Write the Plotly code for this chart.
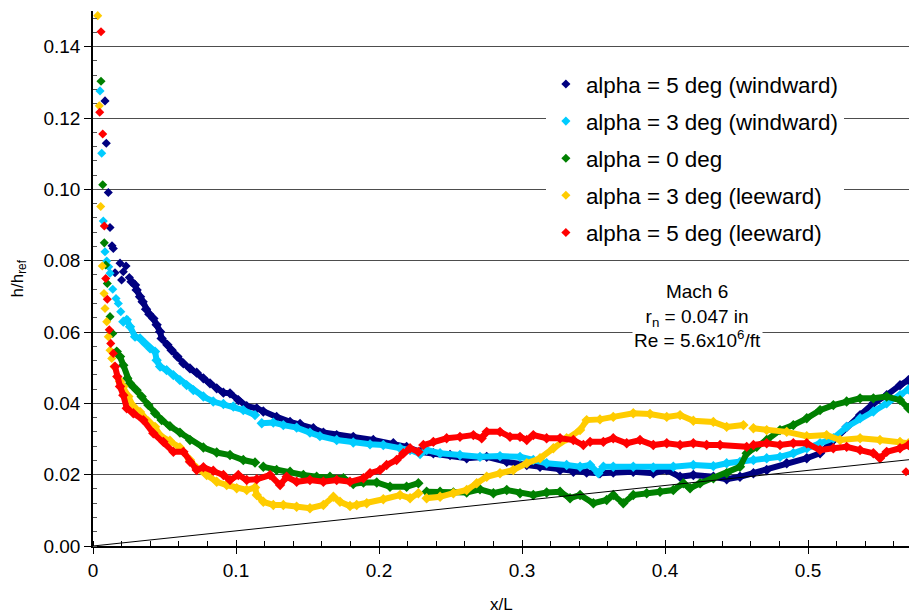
import plotly.graph_objects as go

# ---------------------------------------------------------------------------
# Heating distribution h/h_ref along x/L, Mach 6, r_n = 0.047 in
# Each case: isolated leading-edge points + the dense run further aft
# (None marks a break in the dense run).
# ---------------------------------------------------------------------------

# alpha = 5 deg (windward)
a5w_x_sparse = [0.0084, 0.0093, 0.0107, 0.0119, 0.0133, 0.0142, 0.0154, 0.0189, 0.0200, 0.0212, 0.0231, 0.0254]
a5w_y_sparse = [0.1248, 0.1129, 0.0991, 0.0893, 0.0842, 0.0834, 0.0766, 0.0793, 0.0746, 0.0769, 0.0785, 0.0753]
a5w_x = [0.0270, 0.0294, 0.0305, 0.0329, 0.0347, 0.0371, 0.0394, 0.0422, 0.0445, 0.0469, 0.0480, 0.0520,
         0.0550, 0.0590, 0.0632, 0.0678, 0.0725, 0.0772, 0.0818, 0.0865, 0.0912, 0.0958, 0.1016, 0.1075,
         0.1145, 0.1191, 0.1284, 0.1378, 0.1448, 0.1541, 0.1611, 0.1704, 0.1820, 0.1960, 0.2100, 0.2193,
         0.2287, 0.2380, 0.2497, 0.2613, 0.2753, 0.2893, 0.3033, 0.3126, 0.3266, 0.3359, 0.3452, 0.3545,
         0.3638, 0.3778, 0.3918, 0.4012, 0.4105, 0.4198, 0.4338, 0.4431, 0.4524, 0.4618, 0.4711, 0.4851,
         0.4991, 0.5084, 0.5177, 0.5270, 0.5364, 0.5457, 0.5550, 0.5643, 0.5702]
a5w_y = [0.0741, 0.0732, 0.0718, 0.0699, 0.0685, 0.0664, 0.0650, 0.0638, 0.0620, 0.0601, 0.0582, 0.0564,
         0.0549, 0.0531, 0.0512, 0.0498, 0.0486, 0.0470, 0.0456, 0.0442, 0.0430, 0.0428, 0.0409, 0.0392,
         0.0386, 0.0377, 0.0362, 0.0348, 0.0342, 0.0330, 0.0318, 0.0311, 0.0306, 0.0297, 0.0288, 0.0278,
         0.0264, 0.0260, 0.0255, 0.0246, 0.0250, 0.0236, 0.0227, 0.0222, 0.0213, 0.0208, 0.0206, 0.0204,
         0.0206, 0.0208, 0.0204, 0.0213, 0.0194, 0.0199, 0.0194, 0.0187, 0.0194, 0.0204, 0.0213, 0.0232,
         0.0246, 0.0260, 0.0297, 0.0334, 0.0367, 0.0400, 0.0423, 0.0451, 0.0465]

# alpha = 3 deg (windward)
a3w_x_sparse = [0.0049, 0.0061, 0.0072, 0.0084, 0.0096, 0.0110, 0.0119, 0.0138, 0.0161, 0.0177, 0.0194]
a3w_y_sparse = [0.1276, 0.1101, 0.0911, 0.0825, 0.0799, 0.0783, 0.0765, 0.0720, 0.0694, 0.0680, 0.0657]
a3w_x = [0.0212, 0.0236, 0.0259, 0.0294, 0.0329, 0.0364, 0.0399, 0.0434, 0.0445, 0.0469, 0.0515, 0.0562,
         0.0608, 0.0655, 0.0702, 0.0772, 0.0841, 0.0912, 0.0981, 0.1051, 0.1133, None,
         0.1180, 0.1261, 0.1331, 0.1424, 0.1517, 0.1587, 0.1704, 0.1820, 0.1937, 0.2030, 0.2147, 0.2217,
         0.2287, 0.2333, 0.2427, 0.2566, 0.2706, 0.2846, 0.2986, 0.3079, 0.3172, 0.3312, 0.3406, 0.3476,
         0.3534, 0.3569, 0.3638, 0.3778, 0.3918, 0.4058, 0.4198, 0.4338, 0.4431, 0.4524, 0.4618, 0.4711,
         0.4804, 0.4897, 0.4991, 0.5084, 0.5177, 0.5270, 0.5364, 0.5457, 0.5550, 0.5643, 0.5702]
a3w_y = [0.0629, 0.0634, 0.0615, 0.0587, 0.0582, 0.0568, 0.0554, 0.0545, 0.0521, 0.0503, 0.0493, 0.0479,
         0.0465, 0.0451, 0.0437, 0.0419, 0.0405, 0.0398, 0.0391, 0.0381, 0.0367, None,
         0.0344, 0.0346, 0.0339, 0.0332, 0.0318, 0.0308, 0.0297, 0.0290, 0.0285, 0.0283, 0.0274, 0.0269,
         0.0258, 0.0269, 0.0260, 0.0255, 0.0250, 0.0252, 0.0250, 0.0241, 0.0232, 0.0227, 0.0222, 0.0227,
         0.0204, 0.0222, 0.0222, 0.0222, 0.0220, 0.0222, 0.0227, 0.0224, 0.0232, 0.0236, 0.0241, 0.0246,
         0.0250, 0.0260, 0.0274, 0.0288, 0.0302, 0.0334, 0.0358, 0.0377, 0.0400, 0.0423, 0.0439]

# alpha = 0 deg
a0_x_sparse = [0.0056, 0.0068, 0.0079, 0.0089, 0.0100, 0.0119, 0.0138]
a0_y_sparse = [0.1303, 0.1013, 0.0850, 0.0788, 0.0736, 0.0643, 0.0596]
a0_x = [0.0166, 0.0189, 0.0212, 0.0240, 0.0259, 0.0270, 0.0305, 0.0340, 0.0387, 0.0434, 0.0480, 0.0538,
        0.0608, 0.0678, 0.0772, 0.0865, 0.0958, 0.1051, 0.1133, None,
        0.1191, 0.1284, 0.1378, 0.1471, 0.1564, 0.1657, 0.1751, 0.1820, 0.1891, 0.1984, 0.2077, 0.2193,
        0.2275, None,
        0.2333, 0.2427, 0.2520, 0.2613, 0.2706, 0.2800, 0.2893, 0.2986, 0.3079, 0.3172, 0.3266, 0.3336,
        0.3406, 0.3499, 0.3592, 0.3638, 0.3708, 0.3778, 0.3872, 0.3965, 0.4058, 0.4128, 0.4175, 0.4245,
        0.4338, 0.4431, 0.4524, 0.4571, 0.4641, 0.4711, 0.4804, 0.4897, 0.4991, 0.5084, 0.5177, 0.5270,
        0.5364, 0.5457, 0.5550, 0.5643, 0.5702]
a0_y = [0.0545, 0.0531, 0.0507, 0.0470, 0.0456, 0.0451, 0.0437, 0.0419, 0.0395, 0.0372, 0.0353, 0.0336,
        0.0318, 0.0297, 0.0276, 0.0262, 0.0255, 0.0241, 0.0234, None,
        0.0222, 0.0213, 0.0208, 0.0199, 0.0194, 0.0194, 0.0190, 0.0174, 0.0178, 0.0178, 0.0166, 0.0166,
        0.0176, None,
        0.0152, 0.0152, 0.0150, 0.0150, 0.0159, 0.0148, 0.0157, 0.0148, 0.0143, 0.0150, 0.0152, 0.0134,
        0.0143, 0.0120, 0.0129, 0.0143, 0.0120, 0.0143, 0.0148, 0.0152, 0.0157, 0.0176, 0.0162, 0.0176,
        0.0190, 0.0204, 0.0222, 0.0260, 0.0278, 0.0297, 0.0325, 0.0339, 0.0358, 0.0381, 0.0395, 0.0405,
        0.0414, 0.0414, 0.0419, 0.0409, 0.0386]

# alpha = 3 deg (leeward)
a3l_x_sparse = [0.0033, 0.0044, 0.0054, 0.0065, 0.0077, 0.0084, 0.0096, 0.0107, 0.0119, 0.0131, 0.0147, 0.0177]
a3l_y_sparse = [0.1487, 0.1234, 0.0952, 0.0785, 0.0708, 0.0666, 0.0629, 0.0587, 0.0549, 0.0526, 0.0503, 0.0470]
a3l_x = [0.0189, 0.0212, 0.0247, 0.0282, 0.0329, 0.0387, 0.0434, 0.0469, 0.0538, 0.0608, 0.0678, 0.0725,
         0.0795, 0.0865, 0.0935, 0.1005, 0.1075, 0.1133, 0.1145, 0.1191, 0.1261, 0.1331, 0.1424, 0.1517,
         0.1611, 0.1681, 0.1727, 0.1797, 0.1844, 0.1914, 0.2030, 0.2147, 0.2217, 0.2275, None,
         0.2333, 0.2427, 0.2520, 0.2613, 0.2683, 0.2753, 0.2846, 0.2939, 0.3033, 0.3126, 0.3219, 0.3312,
         0.3406, 0.3452, 0.3545, 0.3638, 0.3778, 0.3895, 0.4012, 0.4105, 0.4198, 0.4338, 0.4431, 0.4548, None,
         0.4618, 0.4711, 0.4851, 0.4991, 0.5130, 0.5224, 0.5364, 0.5503, 0.5643, 0.5702]
a3l_y = [0.0461, 0.0447, 0.0419, 0.0391, 0.0376, 0.0349, 0.0334, 0.0310, 0.0295, 0.0276, 0.0241, 0.0218,
         0.0199, 0.0180, 0.0171, 0.0162, 0.0157, 0.0164, 0.0143, 0.0124, 0.0115, 0.0115, 0.0110, 0.0106,
         0.0115, 0.0138, 0.0124, 0.0112, 0.0115, 0.0120, 0.0131, 0.0143, 0.0134, 0.0148, None,
         0.0134, 0.0138, 0.0148, 0.0157, 0.0176, 0.0194, 0.0204, 0.0213, 0.0232, 0.0246, 0.0274, 0.0302,
         0.0325, 0.0353, 0.0355, 0.0362, 0.0372, 0.0370, 0.0362, 0.0367, 0.0351, 0.0348, 0.0334, 0.0339, None,
         0.0330, 0.0325, 0.0320, 0.0308, 0.0311, 0.0297, 0.0302, 0.0297, 0.0292, 0.0288]

# alpha = 5 deg (leeward)
a5l_x_sparse = [0.0047, 0.0056, 0.0068, 0.0079, 0.0089, 0.0100, 0.0114, 0.0124, 0.0142, 0.5685]
a5l_y_sparse = [0.1216, 0.1442, 0.1155, 0.0897, 0.0750, 0.0692, 0.0606, 0.0568, 0.0540, 0.0208]
a5l_x = [0.0154, 0.0170, 0.0189, 0.0212, 0.0236, 0.0282, 0.0352, 0.0422, 0.0492, 0.0562, 0.0632, 0.0678,
         0.0725, 0.0772, 0.0841, 0.0912, 0.0958, 0.1016, 0.1075, 0.1145, 0.1238, 0.1308, 0.1354, 0.1424,
         0.1517, 0.1611, 0.1704, 0.1797, 0.1891, 0.1937, 0.2007, 0.2053, 0.2123, 0.2170, 0.2217, 0.2275, None,
         0.2310, 0.2380, 0.2473, 0.2566, 0.2660, 0.2718, 0.2753, 0.2846, 0.2916, 0.2986, 0.3033, 0.3079,
         0.3172, 0.3266, 0.3359, 0.3429, None,
         0.3476, 0.3569, 0.3638, 0.3732, 0.3825, 0.3918, 0.4012, 0.4105, 0.4198, 0.4291, 0.4385, 0.4571, None,
         0.4618, 0.4711, 0.4804, 0.4897, 0.4991, 0.5084, 0.5177, 0.5270, 0.5364, 0.5457, 0.5503, 0.5550,
         0.5643, 0.5702]
a5l_y = [0.0503, 0.0475, 0.0447, 0.0423, 0.0386, 0.0372, 0.0353, 0.0316, 0.0292, 0.0264, 0.0264, 0.0236,
         0.0213, 0.0221, 0.0211, 0.0199, 0.0185, 0.0199, 0.0185, 0.0187, 0.0199, 0.0171, 0.0194, 0.0180,
         0.0185, 0.0180, 0.0185, 0.0180, 0.0190, 0.0204, 0.0213, 0.0227, 0.0241, 0.0260, 0.0274, 0.0264, None,
         0.0283, 0.0292, 0.0302, 0.0306, 0.0311, 0.0302, 0.0320, 0.0320, 0.0306, 0.0306, 0.0297, 0.0311,
         0.0302, 0.0302, 0.0297, 0.0283, None,
         0.0292, 0.0292, 0.0302, 0.0288, 0.0297, 0.0283, 0.0288, 0.0283, 0.0288, 0.0283, 0.0283, 0.0278, None,
         0.0283, 0.0288, 0.0283, 0.0288, 0.0288, 0.0269, 0.0274, 0.0278, 0.0269, 0.0260, 0.0246, 0.0264,
         0.0274, 0.0283]

# thin reference line drawn from the origin
ref_x = [0.0, 0.5706]
ref_y = [0.0, 0.0242]

series = [
    ("alpha = 5 deg (windward)", "#000080", a5w_x_sparse, a5w_y_sparse, a5w_x, a5w_y),
    ("alpha = 3 deg (windward)", "#00CCFF", a3w_x_sparse, a3w_y_sparse, a3w_x, a3w_y),
    ("alpha = 0 deg", "#008000", a0_x_sparse, a0_y_sparse, a0_x, a0_y),
    ("alpha = 3 deg (leeward)", "#FFCC00", a3l_x_sparse, a3l_y_sparse, a3l_x, a3l_y),
    ("alpha = 5 deg (leeward)", "#FF0000", a5l_x_sparse, a5l_y_sparse, a5l_x, a5l_y),
]

FONT = "Arial, Liberation Sans, sans-serif"
X_MAX = 0.5706

fig = go.Figure()
for name, color, xs, ys, xd, yd in series:
    fig.add_trace(go.Scatter(
        x=xs, y=ys, mode="markers", name=name, legendgroup=name,
        marker=dict(symbol="diamond", size=7, color=color, line=dict(width=0)),
    ))
    fig.add_trace(go.Scatter(
        x=xd, y=yd, mode="lines+markers", name=name, legendgroup=name, showlegend=False,
        line=dict(color=color, width=6), connectgaps=False,
        marker=dict(symbol="diamond", size=8, color=color, line=dict(width=0)),
    ))

fig.add_trace(go.Scatter(
    x=ref_x, y=ref_y, mode="lines", showlegend=False,
    line=dict(color="black", width=1),
))

# second x axis only to draw the upper half of the major x ticks
fig.add_trace(go.Scatter(x=[None], y=[None], xaxis="x2", showlegend=False))

fig.update_layout(
    width=909, height=616,
    margin=dict(l=93, r=0, t=11, b=70),
    paper_bgcolor="white", plot_bgcolor="white",
    font=dict(family=FONT, size=19, color="black"),
    showlegend=True,
    legend=dict(
        x=0.555, xanchor="left", y=0.903, yanchor="top",
        bgcolor="white", borderwidth=0,
        font=dict(family=FONT, size=22.4, color="black"),
        tracegroupgap=5, itemwidth=30,
    ),
    xaxis=dict(
        range=[0, X_MAX], dtick=0.1, tick0=0,
        showline=True, linecolor="black", linewidth=1.5,
        ticks="outside", ticklen=6, tickcolor="black", tickwidth=1,
        showgrid=False, zeroline=False,
        tickfont=dict(family=FONT, size=19),
        minor=dict(dtick=0.02, ticks="inside", ticklen=5, tickcolor="black", tickwidth=1, showgrid=False),
    ),
    xaxis2=dict(
        range=[0, X_MAX], dtick=0.1, tick0=0, overlaying="x", side="bottom", anchor="y",
        ticks="inside", ticklen=6, tickcolor="black", tickwidth=1,
        showticklabels=False, showline=False, showgrid=False, zeroline=False,
    ),
    yaxis=dict(
        range=[0, 0.15], dtick=0.02, tick0=0, tickformat=".2f",
        showline=True, linecolor="black", linewidth=1.5,
        ticks="outside", ticklen=7, tickcolor="black", tickwidth=1,
        showgrid=True, gridcolor="#4d4d4d", gridwidth=1, zeroline=False,
        tickfont=dict(family=FONT, size=19),
        minor=dict(dtick=0.004, ticks="inside", ticklen=4, tickcolor="#555555", tickwidth=1, showgrid=False),
    ),
    annotations=[
        dict(text="Mach 6<br>r<sub>n</sub> = 0.047 in<br>Re = 5.6x10<sup>6</sup>/ft",
             x=0.4224, y=0.0645, xref="x", yref="y", xanchor="center", yanchor="middle",
             showarrow=False, bgcolor="white", align="center",
             font=dict(family=FONT, size=19, color="black")),
        dict(text="x/L", x=0.5, y=0, xref="paper", yref="paper", yshift=-58,
             xanchor="center", yanchor="middle", showarrow=False,
             font=dict(family=FONT, size=17, color="black")),
        dict(text="h/h<sub>ref</sub>", x=0, y=0.5, xref="paper", yref="paper", xshift=-75,
             xanchor="center", yanchor="middle", showarrow=False, textangle=-90,
             font=dict(family=FONT, size=17, color="black")),
    ],
)

fig.write_html("out.html")
